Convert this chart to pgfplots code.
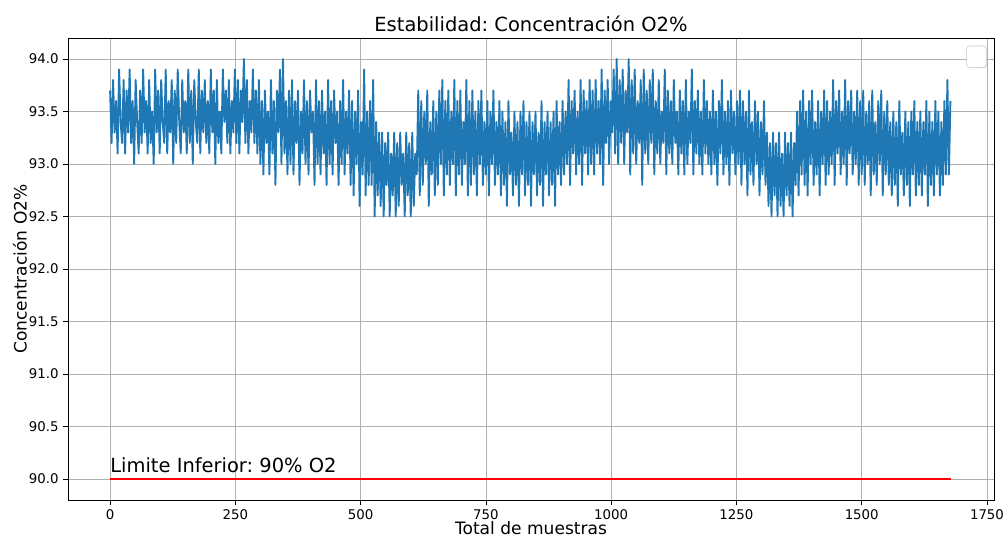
\documentclass[border=0pt]{standalone}
\usepackage{fontspec}
\setmainfont{DejaVu Sans}
\usepackage{pgfplots}
\usepackage{pgfplotstable}
\usetikzlibrary{shadows}
\pgfplotsset{compat=1.18}
\frenchspacing
\definecolor{mplblue}{HTML}{1F77B4}
\definecolor{gridgray}{HTML}{B0B0B0}
\pgfplotstableread[row sep=\\, col sep=comma]{
y\\
93.7\\93.2\\93.8\\93.3\\93.6\\93.1\\93.9\\93.4\\93.2\\93.8\\93.1\\93.7\\93.3\\93.9\\93.2\\93.6\\93.0\\93.8\\93.4\\93.1\\
93.7\\93.2\\93.9\\93.3\\93.6\\93.1\\93.8\\93.2\\93.5\\93.0\\93.9\\93.3\\93.7\\93.1\\93.8\\93.4\\93.2\\93.9\\93.1\\93.6\\
93.3\\93.8\\93.0\\93.7\\93.2\\93.9\\93.4\\93.1\\93.8\\93.3\\93.6\\93.1\\93.9\\93.2\\93.7\\93.0\\93.8\\93.4\\93.2\\93.9\\
93.1\\93.7\\93.3\\93.8\\93.2\\93.6\\93.1\\93.9\\93.3\\93.7\\93.0\\93.8\\93.2\\93.5\\93.1\\93.9\\93.4\\93.7\\93.2\\93.8\\
93.1\\93.6\\93.3\\93.9\\93.2\\93.8\\93.1\\93.7\\93.4\\94.0\\93.2\\93.8\\93.1\\93.6\\93.3\\93.9\\93.2\\93.7\\93.1\\93.8\\
93.0\\93.6\\92.9\\93.7\\93.2\\93.5\\92.9\\93.8\\93.1\\93.6\\92.8\\93.7\\93.3\\93.9\\93.0\\94.0\\93.1\\93.6\\92.9\\93.7\\
93.0\\93.8\\92.9\\93.6\\93.2\\93.7\\92.8\\93.5\\93.1\\93.8\\93.0\\93.6\\92.9\\93.7\\93.3\\93.5\\92.8\\93.8\\93.0\\93.6\\
92.9\\93.7\\93.1\\93.5\\92.8\\93.8\\93.0\\93.6\\92.9\\93.7\\93.2\\93.5\\92.8\\93.6\\93.0\\93.8\\92.9\\93.5\\93.1\\93.7\\
92.8\\93.6\\92.7\\93.5\\93.0\\93.7\\92.6\\93.4\\92.9\\93.9\\92.7\\93.5\\92.8\\93.6\\92.8\\93.8\\92.5\\93.4\\92.7\\93.3\\
92.6\\93.3\\92.5\\93.2\\92.8\\93.3\\92.5\\93.1\\92.7\\93.3\\92.5\\93.2\\92.6\\93.3\\92.8\\93.1\\92.5\\93.3\\92.7\\93.2\\
92.5\\93.3\\92.6\\93.1\\92.9\\93.7\\92.7\\93.6\\92.8\\93.5\\93.0\\93.7\\92.6\\93.4\\92.9\\93.6\\92.7\\93.5\\92.8\\93.7\\
93.0\\93.8\\92.7\\93.6\\92.9\\93.7\\92.8\\93.5\\93.0\\93.8\\92.7\\93.6\\92.9\\93.7\\92.8\\93.4\\93.0\\93.8\\92.7\\93.6\\
92.8\\93.7\\92.9\\93.5\\92.7\\93.6\\93.0\\93.7\\92.8\\93.4\\92.9\\93.6\\92.7\\93.5\\93.0\\93.7\\92.8\\93.4\\92.9\\93.6\\
92.7\\93.5\\92.8\\93.4\\92.6\\93.6\\92.9\\93.3\\92.7\\93.5\\92.8\\93.4\\92.6\\93.5\\92.9\\93.6\\92.7\\93.4\\92.8\\93.5\\
92.6\\93.4\\92.9\\93.5\\92.7\\93.3\\92.8\\93.6\\92.6\\93.4\\92.9\\93.5\\92.7\\93.4\\92.8\\93.5\\92.6\\93.6\\92.9\\93.4\\
92.8\\93.6\\92.9\\93.5\\93.0\\93.8\\92.8\\93.6\\93.1\\93.7\\92.9\\93.5\\93.0\\93.8\\92.8\\93.7\\93.1\\93.6\\92.9\\93.8\\
93.0\\93.7\\92.9\\93.8\\93.1\\93.6\\93.0\\93.9\\92.8\\93.7\\93.2\\93.8\\93.0\\93.6\\93.3\\93.9\\93.1\\94.0\\93.0\\93.8\\
93.2\\93.9\\93.0\\93.7\\93.3\\94.0\\92.9\\93.8\\93.1\\93.9\\93.0\\93.6\\93.2\\93.8\\92.8\\93.9\\93.1\\93.7\\93.0\\93.8\\
93.2\\93.9\\92.9\\93.6\\93.1\\93.8\\93.0\\93.5\\93.2\\93.9\\92.9\\93.7\\93.1\\93.6\\93.0\\93.8\\93.2\\93.5\\92.9\\93.7\\
93.1\\93.6\\92.9\\93.8\\93.0\\93.5\\93.2\\93.9\\92.9\\93.6\\93.1\\93.7\\93.0\\93.5\\92.9\\93.8\\93.1\\93.6\\93.0\\93.5\\
92.9\\93.7\\93.0\\93.5\\92.8\\93.6\\93.1\\93.8\\92.9\\93.5\\93.0\\93.6\\92.8\\93.7\\93.1\\93.5\\92.9\\93.6\\93.0\\93.7\\
92.8\\93.6\\93.0\\93.5\\92.7\\93.7\\92.9\\93.4\\92.8\\93.6\\93.0\\93.5\\92.7\\93.4\\92.9\\93.6\\92.8\\93.3\\92.6\\93.2\\
92.5\\93.3\\92.7\\93.2\\92.5\\93.3\\92.6\\93.1\\92.5\\93.3\\92.7\\93.2\\92.6\\93.3\\92.5\\93.2\\92.8\\93.5\\92.7\\93.6\\
92.9\\93.7\\92.8\\93.5\\92.7\\93.6\\93.0\\93.7\\92.8\\93.4\\92.9\\93.6\\92.7\\93.5\\93.0\\93.7\\92.8\\93.6\\92.9\\93.5\\
93.0\\93.8\\92.8\\93.6\\93.1\\93.7\\92.9\\93.5\\93.0\\93.8\\92.8\\93.6\\93.1\\93.7\\92.9\\93.5\\93.0\\93.7\\92.8\\93.6\\
92.9\\93.7\\92.8\\93.5\\93.0\\93.6\\92.7\\93.7\\92.9\\93.4\\92.8\\93.6\\93.0\\93.7\\92.7\\93.5\\92.9\\93.6\\92.8\\93.4\\
92.7\\93.5\\92.8\\93.4\\92.6\\93.6\\92.9\\93.3\\92.7\\93.5\\92.8\\93.4\\92.6\\93.5\\92.9\\93.6\\92.7\\93.4\\92.8\\93.5\\
92.7\\93.4\\92.9\\93.6\\92.6\\93.5\\92.8\\93.4\\92.7\\93.6\\92.9\\93.5\\92.7\\93.4\\92.8\\93.6\\92.9\\93.8\\92.9\\93.6\\
}\rawdata
\begin{document}
\begin{tikzpicture}
\begin{axis}[
  scale only axis,
  width=694.5pt, height=346.5pt,
  xmin=-84, xmax=1764,
  ymin=89.8, ymax=94.2,
  xtick={0,250,500,750,1000,1250,1500,1750},
  ytick={90.0,90.5,91.0,91.5,92.0,92.5,93.0,93.5,94.0},
  /pgf/number format/assume math mode=true,
  xticklabel style={/pgf/number format/1000 sep={}, font=\fontsize{10pt}{12pt}\selectfont},
  yticklabel style={/pgf/number format/fixed, /pgf/number format/fixed zerofill, /pgf/number format/precision=1, font=\fontsize{10pt}{12pt}\selectfont},
  tick align=outside,
  major tick length=3.5pt,
  tick style={black, line width=0.6pt},
  xtick pos=bottom, ytick pos=left,
  grid=major,
  major grid style={gridgray, line width=0.6pt},
  axis line style={black, line width=0.6pt},
  title={Estabilidad: Concentración O2\%},
  title style={font=\fontsize{14.6pt}{17pt}\selectfont, at={(axis description cs:0.5,1)}, anchor=base, yshift=-1.5pt},
  xlabel={Total de muestras},
  ylabel={Concentración O2\%},
  xlabel style={font=\fontsize{12.8pt}{15pt}\selectfont, at={(axis description cs:0.5,0)}, anchor=base, yshift=-26pt},
  ylabel style={font=\fontsize{12.8pt}{15pt}\selectfont, at={(axis description cs:-0.0518,0.5)}, anchor=center},
  legend style={at={(0.9914,0.9827)}, anchor=north east, draw=gray!45, rounded corners=2pt, fill=white, inner sep=0pt, outer sep=0pt, drop shadow={opacity=0.15, shadow xshift=0.8pt, shadow yshift=-0.8pt}},
]
\addplot[mplblue, line width=1.4pt, line join=round, forget plot] table[x expr=\coordindex*3, y=y] {\rawdata};
\addlegendimage{empty legend}
\addlegendentry{\rule{0pt}{10.5pt}\rule{10.5pt}{0pt}}
\addplot[red, line width=1.1pt, forget plot] coordinates {(0,90.0) (1679,90.0)};
\node[anchor=base west, inner sep=0pt, font=\fontsize{14.6pt}{17pt}\selectfont] at (axis cs:0,90.06) {Limite Inferior: 90\% O2};
\coordinate (SW) at (rel axis cs:0,0);
\coordinate (NE) at (rel axis cs:1,1);
\end{axis}
\pgfresetboundingbox
\path[use as bounding box] ([xshift=-51pt,yshift=-28.5pt]SW) rectangle ([xshift=6.75pt,yshift=28.5pt]NE);
\end{tikzpicture}
\end{document}
